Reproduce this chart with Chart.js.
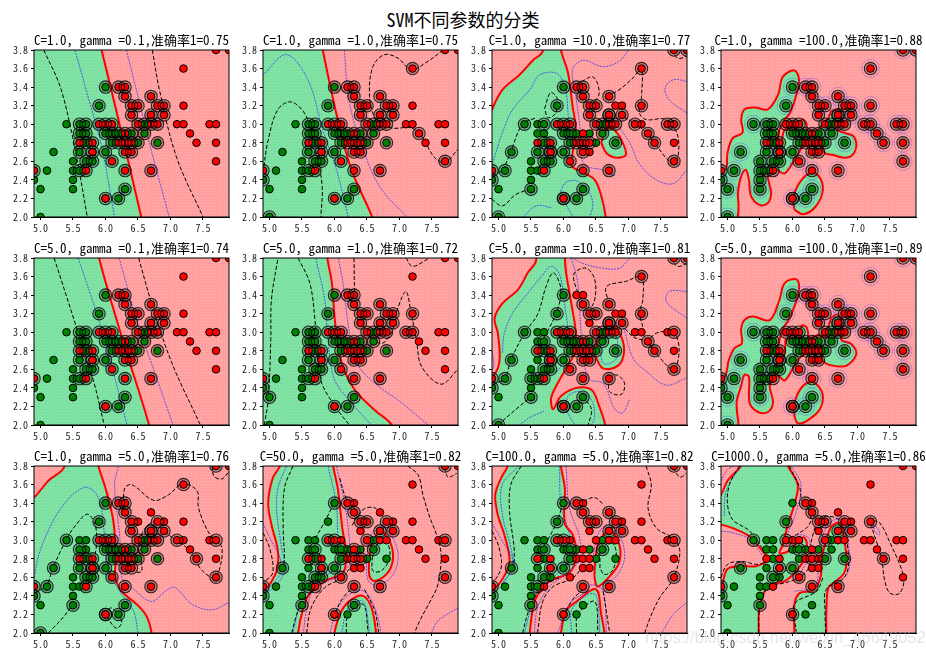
<!DOCTYPE html>
<html>
<head>
<meta charset="utf-8">
<title>SVM不同参数的分类</title>
<script src="https://cdn.jsdelivr.net/npm/chart.js@4"></script>
<style>
  body { margin: 0; background: #fff; width: 926px; height: 658px; overflow: hidden; position: relative; }
  canvas { position: absolute; }
  #mainTitle { position: absolute; left: 0; width: 926px; top: 8px; text-align: center; font: 18px "Noto Sans Mono CJK SC", "Noto Sans CJK SC", sans-serif; line-height: 22px; }
  #mark { position: absolute; left: 645px; top: 628px; font: 16.5px "Liberation Sans", sans-serif; color: rgba(190,190,190,.4); white-space: nowrap; }
</style>
</head>
<body>
<div id="mainTitle">SVM不同参数的分类</div>
<script>
// panel text
const cValues = ['1.0', '1.0', '1.0', '1.0', '5.0', '5.0', '5.0', '5.0', '1.0', '50.0', '100.0', '1000.0'];
const gammaValues = ['0.1', '1.0', '10.0', '100.0', '0.1', '1.0', '10.0', '100.0', '5.0', '5.0', '5.0', '5.0'];
const scores = ['0.75', '0.75', '0.77', '0.88', '0.74', '0.72', '0.81', '0.89', '0.76', '0.82', '0.82', '0.86'];
const xTicks = [5.0, 5.5, 6.0, 6.5, 7.0, 7.5];
const yTicks = [2.0, 2.2, 2.4, 2.6, 2.8, 3.0, 3.2, 3.4, 3.6, 3.8];

// training points
const greenPts = [[5.0,2.0],[5.0,2.3],[4.9,2.4],[5.1,2.5],[5.2,2.7],[5.4,3.0],[5.5,2.3],[5.5,2.4],[5.5,2.5],[5.5,2.6],[5.6,2.5],[5.6,2.7],[5.6,2.9],[5.6,3.0],[5.7,2.6],[5.7,2.8],[5.7,2.9],[5.7,3.0],[5.8,2.6],[5.8,2.7],[5.9,3.2],[6.0,2.7],[6.0,2.9],[6.0,3.4],[6.1,2.8],[6.1,2.9],[6.2,2.2],[6.2,2.9],[6.3,2.3],[6.4,2.9],[6.5,2.8],[6.6,2.9],[6.6,3.0],[6.8,2.8],[6.0,2.2],[6.7,3.1]];
const redPts = [[4.9,2.5],[5.6,2.8],[5.7,2.5],[5.8,2.7],[5.8,2.8],[5.9,3.0],[6.0,3.0],[6.0,2.2],[6.1,2.6],[6.1,3.0],[6.2,2.8],[6.2,3.4],[6.3,2.5],[6.3,2.7],[6.3,2.8],[6.3,2.9],[6.3,3.3],[6.3,3.4],[6.4,2.7],[6.4,2.8],[6.4,3.1],[6.4,3.2],[6.5,3.0],[6.5,3.2],[6.7,2.5],[6.7,3.0],[6.7,3.1],[6.7,3.3],[6.8,3.0],[6.8,3.2],[6.9,3.1],[6.9,3.2],[7.1,3.0],[7.2,3.0],[7.2,3.2],[7.2,3.6],[7.3,2.9],[7.4,2.8],[7.6,3.0],[7.7,2.6],[7.7,2.8],[7.7,3.0],[7.7,3.8],[7.9,3.8]];
const allPts = greenPts.concat(redPts);

// support vector rings
const ringsBase = [[6.0,3.4],[5.9,3.2],[5.6,3.0],[5.7,3.0],[5.6,2.9],[5.7,2.9],[5.7,2.8],[5.6,2.7],[5.7,2.6],[5.8,2.6],[5.8,2.7],[6.0,2.7],[6.0,2.9],[6.1,2.9],[6.2,2.9],[6.1,2.8],[6.4,2.9],[6.5,2.8],[6.6,3.0],[6.6,2.9],[6.8,2.8],[6.3,2.3],[6.2,2.2],[6.0,2.2],[5.6,2.5],[6.2,3.4],[6.3,3.4],[6.3,3.3],[6.4,3.2],[6.5,3.2],[6.4,3.1],[6.7,3.3],[6.7,3.1],[6.8,3.2],[6.9,3.2],[6.9,3.1],[5.9,3.0],[6.0,3.0],[6.1,3.0],[6.5,3.0],[6.7,3.0],[6.8,3.0],[6.3,2.9],[6.3,2.8],[6.2,2.8],[6.4,2.8],[6.3,2.7],[6.4,2.7],[5.6,2.8],[5.8,2.8],[6.1,2.6],[5.7,2.5],[6.3,2.5],[6.7,2.5],[4.9,2.5]];
const rings2 = ringsBase.concat([[7.2,3.6],[7.7,2.6],[7.3,2.9],[5.0,2.0],[4.9,2.4]]);
const rings6 = ringsBase.concat([[5.0,2.3],[7.1,3.0],[7.2,3.0],[7.2,3.2],[4.9,2.4]]);
const noRing3 = [[5.0,2.3],[5.5,2.4],[5.5,2.5],[5.5,2.6],[5.6,3.0],[5.6,2.9],[5.7,2.9],[5.6,2.5],[5.6,2.8],[7.7,2.8],[6.8,3.2],[6.9,3.2],[7.2,3.0],[6.4,2.9],[6.5,2.8],[6.4,2.7],[6.2,2.9],[6.3,2.9]];
const noRing7 = [[5.0,2.3],[5.5,2.4],[5.5,2.6],[5.6,3.0],[5.7,3.0],[5.6,2.9],[6.2,3.4],[6.3,3.4],[5.6,2.7],[7.2,3.0],[7.1,3.0],[6.9,3.2],[6.8,3.2],[7.7,2.8],[7.6,3.0],[6.4,3.1]];
const noRing9 = [[5.0,2.3],[5.5,2.4],[5.5,2.5],[5.5,2.6],[5.6,2.5],[5.6,3.0],[5.7,3.0],[5.7,2.9],[6.5,3.2],[6.7,3.3],[6.9,3.2],[7.2,3.0],[7.2,3.2],[7.3,2.9],[7.6,3.0],[7.7,2.8],[7.9,3.8]];
const rings10 = [[5.2,2.7],[4.9,2.5],[4.9,2.4],[5.6,2.8],[5.6,2.5],[5.5,2.3],[5.7,2.9],[5.7,2.8],[5.7,2.6],[5.8,2.7],[5.8,2.6],[5.7,2.5],[6.0,3.4],[6.2,3.4],[6.3,3.3],[6.4,3.2],[6.5,3.2],[5.9,3.0],[6.0,3.0],[6.1,2.9],[6.1,2.8],[6.0,2.7],[6.1,2.6],[6.3,2.9],[6.3,2.8],[6.4,2.8],[6.5,3.0],[6.7,3.1],[6.8,3.2],[6.9,3.1],[6.6,2.9],[6.3,2.5],[6.7,2.5],[6.0,2.2],[6.3,2.3],[7.7,3.8],[7.7,3.0],[7.7,2.6]];
const rings11 = [[5.2,2.7],[4.9,2.5],[4.9,2.4],[5.5,2.3],[5.6,2.5],[5.7,2.9],[5.6,2.8],[5.7,2.6],[5.8,2.7],[6.0,3.4],[6.2,3.4],[6.3,3.3],[5.9,3.2],[6.4,3.2],[6.5,3.2],[6.7,3.3],[6.8,3.2],[6.9,3.1],[6.7,3.1],[5.9,3.0],[6.0,3.0],[6.0,2.7],[6.1,2.9],[6.1,2.8],[6.3,2.5],[6.7,2.5],[6.0,2.2],[6.6,2.9],[7.7,3.8],[7.7,3.0],[7.7,2.6]];
const rings12 = [[5.4,3.0],[5.2,2.7],[4.9,2.5],[4.9,2.4],[5.5,2.3],[5.7,2.6],[5.8,2.7],[5.9,3.2],[5.9,3.0],[6.0,2.2],[6.2,3.4],[6.3,3.3],[6.4,3.2],[6.5,3.2],[6.5,3.0],[6.7,3.1],[6.8,3.2],[6.9,3.1],[6.1,2.9],[6.0,2.7],[6.1,2.6],[6.3,2.5],[6.3,2.8],[6.5,2.8],[6.7,2.5],[6.8,2.8],[7.2,3.2],[7.4,2.8]];
// blue halos around the points at gamma=100
const halos = [[7.2,3.6],[7.2,3.2],[7.1,3.0],[7.2,3.0],[7.3,2.9],[7.4,2.8],[7.6,3.0],[7.7,3.0],[7.7,2.8],[7.7,2.6],[6.7,2.5],[6.1,2.6],[6.7,3.3],[6.3,2.5],[6.2,3.4],[6.3,3.4],[7.7,3.8],[6.0,2.2],[6.4,3.2],[6.5,3.2],[6.9,3.2],[6.9,3.1],[6.8,3.2],[5.4,3.0],[5.2,2.7],[5.1,2.5],[5.0,2.3],[5.0,2.0],[5.5,2.3],[6.0,3.4],[5.9,3.2],[6.3,2.3],[6.2,2.2],[6.8,2.8]];

// green regions, their outline is the red decision line (parts outside the frame get clipped)
const green1 = [[[4.6,1.7],[6.65,1.7],[6.55,2.0],[6.25,2.9],[5.94,3.8],[5.87,4.0],[4.6,4.1]]];
const green2 = [[[4.6,1.7],[6.72,1.7],[6.58,2.0],[6.26,2.51],[6.05,3.05],[5.82,3.8],[5.75,4.1],[4.6,4.1]]];
const green3 = [[[4.6,1.7],[6.68,1.7],[6.65,2.0],[6.58,2.23],[6.48,2.40],[6.30,2.48],[6.13,2.55],[6.14,2.69],[6.19,2.94],[6.14,3.19],[6.07,3.55],[5.96,3.8],[5.9,4.1],[5.55,4.1],[5.68,3.79],[5.53,3.69],[5.32,3.53],[5.06,3.37],[4.9,3.16],[4.75,2.9],[4.6,2.5]],
  [[6.58,2.80],[6.66,2.94],[6.76,2.95],[6.89,2.83],[6.96,2.67],[6.81,2.64],[6.66,2.69],[6.58,2.80]]];
const green4 = [[[4.8,2.51],[4.97,2.51],[5.0,2.69],[5.08,2.85],[5.23,2.91],[5.21,3.05],[5.26,3.16],[5.42,3.18],[5.62,3.16],[5.78,3.32],[5.85,3.51],[6.03,3.58],[6.10,3.48],[6.06,3.32],[5.96,3.12],[5.88,3.05],[5.80,2.94],[5.76,2.80],[5.78,2.69],[5.83,2.80],[5.88,2.94],[6.03,2.97],[6.16,3.05],[6.22,2.98],[6.17,2.80],[6.08,2.67],[6.0,2.58],[5.88,2.47],[5.80,2.49],[5.72,2.53],[5.62,2.46],[5.67,2.26],[5.62,2.15],[5.49,2.13],[5.36,2.23],[5.33,2.40],[5.28,2.51],[5.21,2.44],[5.16,2.26],[5.17,2.12],[5.16,2.0],[5.13,1.85],[4.8,1.85],[4.8,2.51]],
  [[6.60,3.15],[6.73,3.14],[6.75,3.07],[6.70,2.94],[6.83,2.90],[6.94,2.87],[6.98,2.76],[6.91,2.66],[6.78,2.64],[6.62,2.67],[6.50,2.69],[6.44,2.80],[6.39,2.92],[6.44,2.98],[6.55,3.07],[6.60,3.15]],
  [[6.03,2.08],[6.01,2.21],[6.14,2.40],[6.32,2.48],[6.44,2.40],[6.46,2.26],[6.34,2.10],[6.16,2.03],[6.03,2.08]]];
const pink4 = [[[5.36,2.78],[5.39,2.82],[5.52,2.84],[5.62,2.82],[5.62,2.76],[5.44,2.76],[5.36,2.78]]];
const green5 = [[[4.6,1.7],[6.75,1.7],[6.67,2.0],[6.28,2.88],[5.90,3.8],[5.83,4.1],[4.6,4.1]]];
const green6 = [[[4.6,1.7],[7.05,1.7],[6.88,2.0],[6.62,2.16],[6.31,2.38],[6.11,2.67],[6.01,3.10],[5.96,3.53],[5.89,3.8],[5.85,4.1],[4.6,4.1]]];
const green7 = [[[4.6,1.7],[6.68,1.7],[6.64,2.0],[6.55,2.20],[6.43,2.38],[6.20,2.40],[5.96,2.31],[5.84,2.17],[5.81,2.29],[5.91,2.45],[6.04,2.61],[6.17,2.78],[6.19,2.99],[6.12,3.31],[6.04,3.64],[6.02,3.8],[6.0,4.1],[5.5,4.1],[5.58,3.78],[5.45,3.64],[5.30,3.46],[5.06,3.31],[4.94,3.15],[4.99,2.99],[5.02,2.74],[4.99,2.61],[4.9,2.52],[4.6,2.4]],
  [[6.49,2.74],[6.53,2.92],[6.63,3.04],[6.76,3.07],[6.89,2.95],[6.93,2.78],[6.84,2.64],[6.61,2.61],[6.49,2.74]]];
const green8 = [[[4.8,2.45],[4.9,2.45],[4.98,2.56],[5.02,2.70],[5.11,2.83],[5.22,2.88],[5.21,3.03],[5.26,3.13],[5.39,3.17],[5.65,3.13],[5.80,3.35],[5.88,3.53],[6.06,3.57],[6.10,3.46],[6.03,3.28],[5.93,3.12],[5.85,3.04],[5.80,2.92],[5.76,2.78],[5.85,2.70],[5.89,2.85],[5.90,2.92],[6.11,2.94],[6.14,3.07],[6.22,3.05],[6.24,2.92],[6.19,2.78],[6.08,2.70],[5.98,2.58],[5.88,2.48],[5.80,2.52],[5.72,2.54],[5.65,2.42],[5.70,2.24],[5.62,2.14],[5.47,2.14],[5.34,2.24],[5.33,2.52],[5.26,2.54],[5.21,2.42],[5.14,2.24],[5.17,2.0],[5.17,1.85],[4.8,1.85],[4.8,2.45]],
  [[6.60,3.16],[6.70,3.19],[6.77,3.04],[6.75,2.92],[6.91,2.87],[6.98,2.76],[6.83,2.64],[6.62,2.64],[6.47,2.69],[6.44,2.83],[6.38,2.97],[6.50,2.95],[6.55,3.06],[6.60,3.16]],
  [[6.24,2.92],[6.37,2.96],[6.42,2.85],[6.26,2.85],[6.24,2.92]],
  [[6.03,2.09],[6.03,2.24],[6.16,2.42],[6.32,2.46],[6.46,2.34],[6.42,2.17],[6.21,2.04],[6.08,2.02],[6.03,2.09]]];
const pink8 = [[[5.34,2.79],[5.47,2.88],[5.62,2.81],[5.57,2.72],[5.39,2.74],[5.34,2.79]]];
const green9 = [[[4.6,1.7],[6.78,1.7],[6.71,2.0],[6.64,2.17],[6.51,2.29],[6.25,2.45],[6.15,2.60],[6.16,2.81],[6.12,3.21],[6.0,3.56],[5.89,3.8],[5.8,4.1],[5.2,4.1],[5.37,3.8],[5.12,3.64],[4.9,3.46],[4.6,3.3]]];
const green10 = [[[4.6,1.7],[5.42,1.7],[5.44,2.0],[5.52,2.27],[5.62,2.43],[5.85,2.56],[6.13,2.65],[6.18,2.85],[6.12,3.13],[6.05,3.56],[5.98,3.8],[5.95,4.1],[5.25,4.1],[5.16,3.8],[5.05,3.67],[4.98,3.40],[5.03,3.17],[5.13,2.88],[5.11,2.67],[5.0,2.52],[4.9,2.45],[4.6,2.3]],
  [[6.0,1.8],[6.0,2.0],[6.11,2.24],[6.26,2.36],[6.44,2.40],[6.57,2.27],[6.64,2.0],[6.66,1.8]],
  [[6.53,2.77],[6.59,2.99],[6.72,3.09],[6.85,2.99],[6.90,2.81],[6.82,2.65],[6.62,2.56],[6.54,2.61],[6.53,2.77]]];
const green11 = [[[4.6,1.7],[5.44,1.7],[5.48,2.0],[5.55,2.33],[5.68,2.49],[5.84,2.58],[6.09,2.65],[6.20,2.84],[6.14,3.06],[6.02,3.18],[6.02,3.56],[5.96,3.8],[5.94,4.1],[5.2,4.1],[5.14,3.8],[5.04,3.67],[4.95,3.49],[4.99,3.27],[5.09,3.06],[5.17,2.77],[5.06,2.58],[4.9,2.45],[4.6,2.3]],
  [[5.92,1.8],[5.96,2.0],[6.04,2.24],[6.20,2.34],[6.50,2.47],[6.58,2.20],[6.63,2.0],[6.65,1.8]],
  [[6.48,2.70],[6.53,2.95],[6.71,3.11],[6.86,2.95],[6.86,2.77],[6.76,2.65],[6.53,2.50],[6.48,2.59],[6.48,2.70]]];
const green12 = [[[4.77,1.85],[5.48,1.85],[5.48,2.0],[5.49,2.27],[5.57,2.45],[5.67,2.52],[5.88,2.56],[6.06,2.67],[6.19,2.81],[6.22,2.97],[6.16,3.03],[5.93,2.88],[5.80,2.86],[5.85,2.95],[5.93,3.17],[6.03,3.39],[6.08,3.60],[5.93,3.8],[5.85,3.95],[5.3,3.95],[5.21,3.8],[5.0,3.64],[4.9,3.49],[4.77,3.42],[4.77,3.19],[4.9,3.17],[5.08,3.13],[5.34,3.04],[5.54,2.88],[5.62,2.79],[5.44,2.72],[5.23,2.72],[5.0,2.69],[4.9,2.49],[4.77,2.42],[4.77,1.85]],
  [[6.03,1.85],[6.03,2.0],[6.03,2.31],[6.11,2.43],[6.32,2.46],[6.43,2.60],[6.45,2.81],[6.50,2.95],[6.60,3.15],[6.73,3.18],[6.81,2.95],[6.83,2.74],[6.78,2.63],[6.63,2.54],[6.55,2.49],[6.52,2.24],[6.52,2.0],[6.52,1.85],[6.03,1.85]]];

// dashed black contours
const black1 = [[[5.05,3.8],[5.30,3.41],[5.48,2.91],[5.60,2.48],[5.72,2.0]],[[6.72,3.8],[6.83,3.37],[7.09,2.65],[7.50,2.0]]];
const black2 = [[[4.9,2.48],[4.98,2.83],[5.13,3.16],[5.34,3.24],[5.57,3.08],[5.72,2.69],[5.81,2.33],[5.79,2.0]],[[4.93,2.0],[5.0,2.04],[5.08,2.0]],[[7.67,3.8],[7.44,3.68],[7.18,3.59],[6.98,3.71],[6.77,3.75],[6.59,3.62],[6.54,3.30],[6.64,3.05],[6.87,2.96],[7.18,2.96],[7.34,2.87],[7.54,2.64],[7.70,2.59],[7.9,2.73]]];
const black3 = [[[4.9,2.19],[5.06,2.12],[5.26,2.24],[5.48,2.30]],[[4.9,2.44],[5.06,2.51],[5.19,2.71],[5.37,3.0],[5.58,3.07]],[[5.71,3.17],[5.80,3.34],[5.90,3.28],[5.88,3.12],[5.76,3.07],[5.71,3.17]],[[6.20,3.42],[6.45,3.51],[6.55,3.34],[6.45,3.21]],[[6.66,3.33],[6.81,3.35],[7.07,3.50],[7.2,3.6],[7.2,3.3],[7.17,3.12],[7.27,3.05],[7.58,3.05],[7.76,2.87],[7.74,2.60],[7.63,2.60],[7.40,2.80],[7.27,2.91],[7.12,3.0],[6.92,3.08]],[[7.66,3.8],[7.76,3.71],[7.89,3.73]]];
const black5 = [[[5.21,3.8],[5.55,3.06],[5.81,2.49],[5.98,2.0]],[[6.51,3.8],[6.71,3.31],[7.02,2.67],[7.46,2.0]]];
const black6 = [[[4.92,2.0],[4.98,2.27],[5.02,2.92],[5.03,3.35],[5.13,3.8]],[[5.44,3.8],[5.62,3.53],[5.70,3.13],[5.72,2.9],[5.76,2.6],[5.82,2.42],[6.05,2.16],[6.23,2.0]],[[6.30,3.8],[6.32,3.35],[6.39,3.17],[6.50,3.0],[6.72,2.88],[6.88,3.0],[6.98,3.27],[7.10,3.44],[7.18,3.2],[7.26,2.92],[7.34,2.63],[7.64,2.44],[7.9,2.6]],[[7.1,3.8],[7.2,3.71],[7.44,3.79]]];
const black7 = [[[4.99,2.0],[5.32,2.2],[5.48,2.29]],[[4.9,2.45],[5.09,2.49],[5.19,2.70],[5.40,2.99],[5.60,3.19],[5.73,3.49],[5.84,3.64],[5.94,3.53],[5.96,3.40],[5.89,3.21],[5.71,2.95],[5.58,2.79]],[[6.30,3.31],[6.17,3.53],[6.17,3.64],[6.35,3.69],[6.48,3.57],[6.48,3.35],[6.38,3.21]],[[6.70,3.31],[6.66,3.49],[6.97,3.55],[7.2,3.6],[7.22,3.35],[7.17,3.21],[7.22,3.06]],[[6.89,3.09],[7.07,2.95],[7.27,2.90],[7.40,2.79],[7.69,2.60],[7.78,2.81],[7.69,3.0],[7.43,2.99],[7.30,2.91]],[[6.70,2.51],[6.82,2.54],[6.94,2.45],[6.89,2.33],[6.71,2.36],[6.70,2.51]],[[7.63,3.8],[7.76,3.71],[7.89,3.74]],[[6.29,2.31],[6.43,2.17],[6.38,2.0]]];
const black9 = [[[5.12,2.0],[5.35,2.17],[5.50,2.31]],[[4.9,2.43],[5.09,2.51],[5.19,2.70],[5.40,3.01],[5.55,3.17],[5.72,3.28],[5.84,3.17],[5.86,2.95],[5.81,2.74]],[[5.99,2.20],[6.09,2.27],[6.25,2.13],[6.17,2.05],[5.99,2.20]],[[6.29,3.33],[6.29,3.55],[6.40,3.60],[6.74,3.43],[6.97,3.49],[7.19,3.61],[7.41,3.53],[7.43,3.35],[7.59,3.08],[7.79,2.92],[7.69,2.60],[7.49,2.67],[7.28,2.90],[7.10,2.99],[6.87,3.12],[6.79,3.21],[6.61,3.13],[6.51,2.95],[6.56,2.67],[6.46,2.65]],[[7.64,3.8],[7.67,3.69],[7.79,3.66],[7.9,3.74]]];
const black10 = [[[4.9,3.08],[5.0,2.92],[5.05,2.65],[4.9,2.54]],[[5.36,3.8],[5.23,3.56],[5.21,3.13],[5.23,2.81],[5.21,2.70]],[[5.99,3.40],[5.85,3.20],[5.62,2.92]],[[6.08,3.67],[6.18,3.45],[6.31,3.35]],[[6.27,3.16],[6.44,3.33],[6.62,3.35],[6.70,3.27]],[[6.58,2.81],[6.67,2.97],[6.80,2.99],[6.85,2.81],[6.72,2.67],[6.59,2.67],[6.58,2.81]],[[7.13,3.8],[7.29,3.70],[7.36,3.49],[7.47,3.24],[7.57,3.06],[7.64,2.85],[7.59,2.52],[7.47,2.34],[7.31,2.13],[7.23,2.0]],[[7.69,3.78],[7.75,3.68],[7.88,3.72]],[[5.98,2.16],[6.11,2.36],[6.29,2.50]],[[6.46,2.47],[6.62,2.24],[6.68,2.0]],[[6.18,2.0],[6.21,2.2],[6.44,2.31],[6.52,2.0]],[[5.34,2.0],[5.46,2.27],[5.70,2.49]],[[5.57,2.0],[5.64,2.27],[5.85,2.49],[6.11,2.59],[6.26,2.72]]];
const black11 = [[[4.9,3.10],[5.01,2.92],[5.04,2.70],[4.9,2.52]],[[5.35,3.8],[5.19,3.60],[5.17,3.31],[5.24,2.92],[5.24,2.72]],[[5.99,3.40],[5.90,3.20],[5.71,2.95],[5.55,2.81]],[[6.17,3.33],[6.32,3.42],[6.48,3.46],[6.62,3.38]],[[7.27,3.8],[7.35,3.60],[7.30,3.35],[7.43,3.13],[7.69,3.02],[7.79,2.88],[7.69,2.59],[7.48,2.38],[7.33,2.16],[7.25,2.0]],[[7.69,3.78],[7.79,3.68],[7.89,3.72]],[[6.56,2.70],[6.58,2.95],[6.71,3.0],[6.81,2.88],[6.76,2.68],[6.63,2.63],[6.56,2.70]],[[6.0,2.18],[6.14,2.36],[6.35,2.50]],[[6.61,2.45],[6.71,2.0]],[[5.37,2.0],[5.48,2.27],[5.66,2.49],[5.94,2.60]],[[5.60,2.0],[5.68,2.34],[5.84,2.50],[6.14,2.59],[6.30,2.72]],[[6.2,2.0],[6.22,2.2],[6.48,2.34],[6.53,2.0]]];
const black12 = [[[5.18,3.8],[5.03,3.60],[5.0,3.39],[5.08,3.22],[5.34,3.10],[5.57,2.88]],[[4.9,2.60],[5.0,2.74],[5.23,2.77],[5.46,2.74],[5.65,2.78]],[[5.95,3.8],[6.11,3.57],[6.14,3.44],[6.26,3.31],[6.26,3.17],[6.06,3.06],[5.88,3.01]],[[5.48,2.0],[5.49,2.24],[5.62,2.49],[5.88,2.54],[6.11,2.60],[6.26,2.72],[6.29,2.99],[6.44,3.24],[6.73,3.21],[6.86,2.85],[6.81,2.61],[6.52,2.47],[6.50,2.24],[6.51,2.0]],[[6.06,2.0],[6.03,2.31],[6.37,2.45],[6.47,2.60]],[[7.24,3.21],[7.34,3.19],[7.49,2.99],[7.71,2.60],[7.65,2.43],[7.50,2.43],[7.42,2.56],[7.37,2.81],[7.29,2.99],[7.22,3.15],[7.24,3.21]]];

// dotted blue contours
const blue1 = [[[5.53,3.8],[5.73,3.30],[5.94,2.76],[6.14,2.0]],[[6.32,3.8],[6.50,3.30],[6.73,2.65],[6.98,2.0]]];
const blue2 = [[[4.9,3.53],[5.26,3.75],[5.59,3.48],[5.82,2.94],[6.03,2.51],[6.21,2.0]],[[6.15,3.8],[6.23,3.23],[6.46,2.69],[6.72,2.30],[7.12,2.0]]];
const blue3 = [[[4.91,2.58],[5.06,2.91],[5.22,3.16],[5.48,3.37],[5.63,3.53],[5.89,3.55],[6.02,3.41],[6.07,3.12],[6.09,2.83],[6.08,2.65]],[[5.38,2.0],[5.58,2.12],[5.82,2.1]],[[5.96,2.28],[6.03,2.37],[6.2,2.39],[6.40,2.26],[6.45,2.12],[6.40,2.0]],[[5.96,2.28],[6.05,2.12],[6.15,2.0]],[[7.0,3.8],[6.86,3.68],[6.61,3.62],[6.30,3.69],[6.14,3.59],[6.19,3.30],[6.25,2.98],[6.27,2.66],[6.35,2.55],[6.58,2.51],[6.81,2.44]],[[6.84,2.98],[7.02,2.80],[7.17,2.57],[7.43,2.40],[7.69,2.36],[7.9,2.51]],[[7.9,3.12],[7.63,3.26],[7.56,3.39],[7.69,3.48],[7.9,3.46]]];
const blue5 = [[[5.58,3.8],[5.91,3.10],[6.15,2.49],[6.33,2.0]],[[6.21,3.8],[6.48,3.13],[6.76,2.56],[7.04,2.0]]];
const blue6 = [[[5.71,3.8],[5.85,3.35],[5.90,2.92],[6.0,2.49],[6.31,2.20],[6.57,2.0]],[[6.06,3.8],[6.13,3.53],[6.23,2.99],[6.34,2.67],[6.62,2.45],[7.03,2.24],[7.44,2.0]]];
const blue7 = [[[5.32,2.0],[5.48,2.08],[5.7,2.15]],[[4.9,2.8],[4.93,2.65],[4.9,2.58]],[[5.06,2.78],[5.09,2.99],[5.22,3.21],[5.45,3.42],[5.66,3.60],[5.81,3.71],[5.94,3.62],[6.02,3.28],[6.07,2.99],[6.04,2.74],[5.89,2.56]],[[6.04,2.17],[6.07,2.31],[6.25,2.36],[6.43,2.27],[6.48,2.09],[6.43,2.0]],[[6.04,2.17],[6.12,2.06],[6.18,2.0]],[[7.02,3.8],[6.86,3.69],[6.61,3.69],[6.30,3.74],[6.14,3.8]],[[6.12,3.8],[6.22,3.53],[6.27,2.99],[6.32,2.67],[6.40,2.49],[6.61,2.45],[6.79,2.17],[6.91,2.13],[7.02,2.28]],[[7.9,3.15],[7.58,3.33],[7.63,3.44],[7.9,3.44]],[[6.56,2.81],[6.61,2.95],[6.78,3.0],[6.84,2.81],[6.80,2.70],[6.62,2.66],[6.56,2.81]],[[6.93,3.04],[7.07,2.72],[7.27,2.58],[7.58,2.43],[7.9,2.51]]];
const blue9 = [[[4.9,2.60],[5.01,2.92],[5.32,3.35],[5.68,3.57],[5.89,3.46],[5.99,3.03],[6.05,2.67],[6.22,2.45],[6.43,2.24],[6.50,2.0]],[[6.20,3.8],[6.14,3.60],[6.22,3.03],[6.25,2.60],[6.40,2.49],[6.71,2.34],[6.92,2.45],[7.07,2.49],[7.33,2.31],[7.64,2.25],[7.9,2.33]]];
const blue10 = [[[4.9,3.18],[5.03,2.99],[5.16,2.81],[5.16,2.63],[4.9,2.42]],[[5.26,3.8],[5.13,3.56],[5.11,3.31],[5.18,2.95],[5.23,2.67],[5.11,2.52],[4.92,2.42]],[[5.90,3.8],[6.03,3.38],[6.05,3.06],[6.11,2.77],[5.85,2.61],[5.57,2.49],[5.44,2.24],[5.36,2.0]],[[6.03,3.8],[6.16,3.38],[6.23,2.99],[6.23,2.74],[6.0,2.59],[5.70,2.50],[5.57,2.24],[5.52,2.0]],[[6.49,2.81],[6.57,3.06],[6.70,3.17],[6.90,3.02],[6.98,2.81],[6.88,2.61],[6.67,2.52],[6.52,2.56],[6.49,2.81]],[[5.93,2.0],[6.05,2.27],[6.26,2.43],[6.46,2.45],[6.62,2.27],[6.72,2.0]],[[6.11,2.0],[6.21,2.27],[6.44,2.34],[6.54,2.0]],[[7.49,2.0],[7.59,2.13],[7.9,2.27]]];
const blue11 = [[[4.9,3.18],[5.06,2.99],[5.22,2.77],[5.06,2.52],[4.9,2.43]],[[5.32,3.8],[5.06,3.60],[5.06,3.27],[5.19,2.92],[5.22,2.70],[5.04,2.52]],[[5.94,3.8],[5.96,3.38],[6.09,3.06],[6.12,2.81],[5.89,2.63],[5.63,2.49],[5.50,2.27],[5.40,2.0]],[[6.04,3.8],[6.09,3.35],[6.25,3.02],[6.22,2.77],[5.99,2.61],[5.78,2.50],[5.60,2.27],[5.55,2.0]],[[6.45,2.81],[6.53,3.06],[6.68,3.17],[6.86,3.06],[6.94,2.81],[6.81,2.61],[6.61,2.52]],[[5.91,2.0],[6.09,2.31],[6.35,2.45],[6.43,2.52],[6.61,2.45],[6.66,2.0]],[[7.51,2.0],[7.69,2.20],[7.9,2.33]],[[6.12,2.0],[6.14,2.27],[6.48,2.42],[6.56,2.0]]];
const blue12 = [[[4.9,3.64],[5.0,3.76],[5.10,3.8]],[[4.95,3.26],[4.98,3.53],[5.18,3.78]],[[4.9,3.10],[5.08,3.08],[5.34,3.01],[5.54,2.83]],[[5.98,3.8],[6.13,3.60],[6.06,3.31],[5.90,2.99],[6.11,3.06],[6.26,3.01],[6.24,2.81],[6.11,2.63]],[[6.03,2.45],[6.32,2.49],[6.39,2.60],[6.37,2.81],[6.55,3.17],[6.76,3.22],[6.86,2.95],[6.86,2.67],[6.60,2.49]],[[7.24,3.17],[7.32,3.12],[7.34,3.06],[7.27,3.09],[7.24,3.17]]];

const colLefts = [34, 263, 492, 721];
const rowTops = [50, 258, 466];
const panelW = 195, panelH = 167;

function texture(base, dot) {
  const c = document.createElement('canvas');
  c.width = c.height = 3;
  const g = c.getContext('2d');
  g.fillStyle = base; g.fillRect(0, 0, 3, 3);
  g.fillStyle = dot; g.fillRect(1, 1, 1, 1);
  return g.createPattern(c, 'repeat');
}
const pinkFill = texture('#ff9f9f', '#ffb4b4');
const greenFill = texture('#7ce0a0', '#93e7b3');

const xy = list => list.map(p => ({x: p[0], y: p[1]}));
const except = list => allPts.filter(p => !list.some(q => q[0] === p[0] && q[1] === p[1]));

const greens = [green1, green2, green3, green4, green5, green6, green7, green8, green9, green10, green11, green12];
const pinks = [[], [], [], pink4, [], [], [], pink8, [], [], [], []];
const blacks = [black1, black2, black3, [], black5, black6, black7, [], black9, black10, black11, black12];
const blues = [blue1, blue2, blue3, [], blue5, blue6, blue7, [], blue9, blue10, blue11, blue12];
const rings = [ringsBase, rings2, except(noRing3), allPts, ringsBase, rings6, except(noRing7), allPts, except(noRing9), rings10, rings11, rings12];

// background + frame of each panel
const panelBox = {
  id: 'panelBox',
  beforeDatasetsDraw(chart) {
    const a = chart.chartArea, ctx = chart.ctx;
    ctx.save();
    ctx.fillStyle = pinkFill;
    ctx.fillRect(a.left, a.top, a.width, a.height);
    ctx.restore();
  },
  afterDatasetsDraw(chart) {
    const a = chart.chartArea, ctx = chart.ctx;
    ctx.save();
    ctx.strokeStyle = '#000';
    ctx.lineWidth = 1;
    ctx.strokeRect(a.left, a.top, a.width, a.height);
    ctx.restore();
  }
};

function regionSet(poly, fillStyle) {
  return {data: xy(poly), showLine: true, fill: 'shape', backgroundColor: fillStyle, borderColor: '#ff0000', borderWidth: 2, pointRadius: 0, tension: 0.35, order: 10};
}
function contourSet(line, color, width, dash, order) {
  return {data: xy(line), showLine: true, fill: false, borderColor: color, borderWidth: width, borderDash: dash, pointRadius: 0, tension: 0.35, order: order};
}
function dotSet(points, fillColor, radius, edge, width, order) {
  return {data: xy(points), showLine: false, backgroundColor: fillColor, borderColor: edge, borderWidth: width, pointRadius: radius, order: order};
}

for (let i = 0; i < 12; i++) {
  const cv = document.createElement('canvas');
  cv.width = panelW + 60;
  cv.height = panelH + 40;
  cv.style.left = (colLefts[i % 4] - 30) + 'px';
  cv.style.top = (rowTops[Math.floor(i / 4)] - 22) + 'px';
  document.body.appendChild(cv);

  const sets = [];
  greens[i].forEach(p => sets.push(regionSet(p, greenFill)));
  pinks[i].forEach(p => sets.push(regionSet(p, pinkFill)));
  blues[i].forEach(l => sets.push(contourSet(l, 'rgba(40,40,255,.9)', 0.8, [2, 1], 8)));
  blacks[i].forEach(l => sets.push(contourSet(l, '#000', 1, [4, 2], 7)));
  if (gammaValues[i] === '100.0') sets.push(dotSet(halos, 'rgba(0,0,0,0)', 9, 'rgba(60,60,255,.45)', 0.7, 6.5));
  // grey shade under the rings, points go on top of it
  sets.push(dotSet(rings[i], 'rgba(50,50,50,.28)', 6, 'rgba(0,0,0,0)', 0, 6));
  sets.push(dotSet(greenPts, '#008000', 3.8, '#000', 1, 5));
  sets.push(dotSet(redPts, '#ff0000', 3.8, '#000', 1, 4));
  sets.push(dotSet(rings[i], 'rgba(0,0,0,0)', 6.2, 'rgba(0,0,0,.8)', 1.1, 3));

  new Chart(cv.getContext('2d'), {
    type: 'scatter',
    data: {datasets: sets},
    plugins: [panelBox],
    options: {
      responsive: false,
      animation: false,
      events: [],
      layout: {autoPadding: false},
      elements: {line: {capBezierPoints: false}},
      plugins: {
        legend: {display: false},
        tooltip: {enabled: false},
        title: {
          display: true,
          text: 'C=' + cValues[i] + '，gamma =' + gammaValues[i] + ',准确率1=' + scores[i],
          color: '#000',
          font: {family: '"Noto Sans Mono CJK SC", "Noto Sans CJK SC", sans-serif', size: 13, weight: 'normal', lineHeight: 1.2},
          padding: {top: 4.7, bottom: 1.7}
        }
      },
      scales: {
        x: {
          type: 'linear', min: 4.9, max: 7.9,
          afterBuildTicks: s => { s.ticks = xTicks.map(v => ({value: v})); },
          afterFit: s => { s.height = 18; },
          grid: {drawOnChartArea: false, tickLength: 3, color: '#000'},
          border: {color: '#000'},
          ticks: {color: '#222', padding: 2, maxRotation: 0, autoSkip: false, callback: v => v.toFixed(1), font: {family: '"Noto Sans Mono CJK SC", "DejaVu Sans Mono", monospace', size: 10}}
        },
        y: {
          type: 'linear', min: 2.0, max: 3.8,
          afterBuildTicks: s => { s.ticks = yTicks.map(v => ({value: v})); },
          afterFit: s => { s.width = 30; },
          grid: {drawOnChartArea: false, tickLength: 3, color: '#000'},
          border: {color: '#000'},
          ticks: {color: '#222', padding: 3, autoSkip: false, callback: v => v.toFixed(1), font: {family: '"Noto Sans Mono CJK SC", "DejaVu Sans Mono", monospace', size: 10}}
        },
        // empty axis on the right keeps the title centred over the frame
        yRight: {
          type: 'linear', position: 'right', min: 2.0, max: 3.8,
          afterFit: s => { s.width = 30; },
          grid: {display: false},
          border: {display: false},
          ticks: {display: false}
        }
      }
    }
  });
}
</script>
<div id="mark">https://blog.csdn.net/weixin_46649052</div>
</body>
</html>
